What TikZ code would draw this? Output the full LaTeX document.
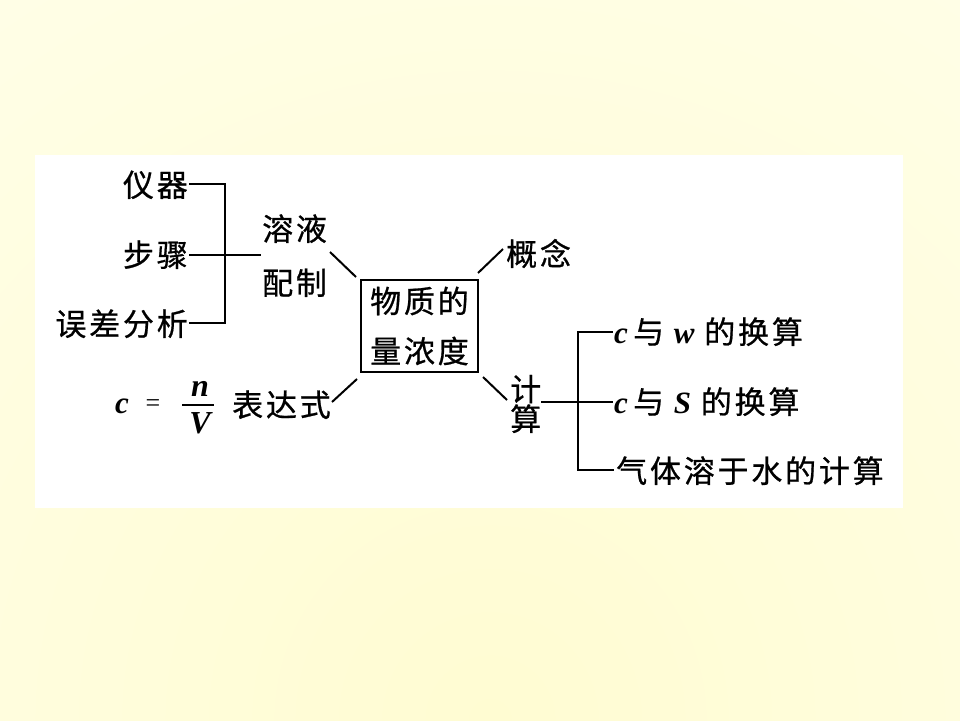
\documentclass[tikz,border=0pt]{standalone}
\usepackage{fontspec}
\usetikzlibrary{calc}
\setmainfont{Liberation Serif}
\newfontfamily\cjk[LetterSpace=9,FakeBold=0.7]{Noto Sans CJK SC}
\newfontfamily\mth[ItalicFont={Liberation Serif Bold Italic}]{Liberation Serif}
\newcommand{\vv}[1]{{\mth\itshape #1}}
\definecolor{yfar}{HTML}{FFFFF0}
\definecolor{ynear}{HTML}{FFFCD2}
\tikzset{
  lbl/.style={inner sep=0pt, font=\cjk\fontsize{31}{36}\selectfont, text height=27pt, text depth=4pt},
  ln/.style={line width=2.4pt, line cap=rect},
  dg/.style={line width=2pt},
}
\begin{document}
\begin{tikzpicture}[x=1pt,y=-1pt]
\useasboundingbox (0,0) rectangle (960,720);
\fill[yfar] (0,0) rectangle (960,720);
\begin{scope}
\clip (0,0) rectangle (960,720);
\shade[inner color=ynear, outer color=yfar] (490,720) circle (1300);
\end{scope}
\fill[white] (35,155) rectangle (903,508);

% central box
\node[draw, line width=2pt, minimum width=117pt, minimum height=92pt, inner sep=0pt, align=center,
      font=\cjk\fontsize{31}{50}\selectfont] (center) at (419.5,326) {物质的\\量浓度};

% left top group
\node[lbl, anchor=east] (yiqi) at (188,185) {仪器};
\node[lbl, anchor=east] (buzhou) at (188,255) {步骤};
\node[lbl, anchor=east] (wucha) at (188,324) {误差分析};
\node[lbl, anchor=west] (rongye) at (262,229) {溶液};
\node[lbl, anchor=west] (peizhi) at (262,283) {配制};
\coordinate (brT) at (225,184);
\coordinate (brB) at (225,323);
\coordinate (brM) at (260,255);
\draw[ln] ($(yiqi.east)+(2,-1)$) -- (brT) -- (brB) -- ($(wucha.east)+(2,-1)$);
\draw[ln] ($(buzhou.east)+(2,0)$) -- (brM);

% concept
\node[lbl, anchor=west] (gainian) at (506,254) {概念};

% expression
\node[inner sep=0pt, font=\fontsize{31}{36}\selectfont] (cvar) at (122,406) {\vv{c}};
\node[inner sep=0pt, font=\fontsize{26}{30}\selectfont] (eq) at (153,406) {=};
\node[inner sep=0pt, font=\fontsize{32}{36}\selectfont] (nvar) at (200,389) {\vv{n}};
\node[inner sep=0pt, font=\fontsize{32}{36}\selectfont] (Vvar) at (200,423) {\vv{V}};
\draw[line width=2.4pt] (182,405) -- (214,405);
\node[lbl, anchor=west] (biaoda) at (232,405) {表达式};

% calculation
\node[inner sep=0pt, anchor=west, align=center, font=\cjk\fontsize{31}{27}\selectfont] (jisuan) at (510,404) {计\\算};
\node[lbl, anchor=west] (cw) at (614,332) {\vv{c}\,与 \vv{w} 的换算};
\node[lbl, anchor=west] (cs) at (614,402) {\vv{c}\,与 \vv{S} 的换算};
\node[lbl, anchor=west] (qiti) at (616,471) {气体溶于水的计算};
\coordinate (br2T) at (578,332);
\coordinate (br2B) at (578,470);
\draw[ln] ($(cw.west)+(-2,0)$) -- (br2T) -- (br2B) -- ($(qiti.west)+(-3,-1)$);
\draw[ln] (542,402) -- ($(cs.west)+(-2,0)$);

% diagonals
\coordinate (d1a) at (330,252); \coordinate (d1b) at (356,277);
\coordinate (d2a) at (478,273); \coordinate (d2b) at (503,249);
\coordinate (d3a) at (332,402); \coordinate (d3b) at (357,379);
\coordinate (d4a) at (483,377); \coordinate (d4b) at (507,400);
\draw[dg] (d1a) -- (d1b);
\draw[dg] (d2a) -- (d2b);
\draw[dg] (d3a) -- (d3b);
\draw[dg] (d4a) -- (d4b);
\end{tikzpicture}
\end{document}
